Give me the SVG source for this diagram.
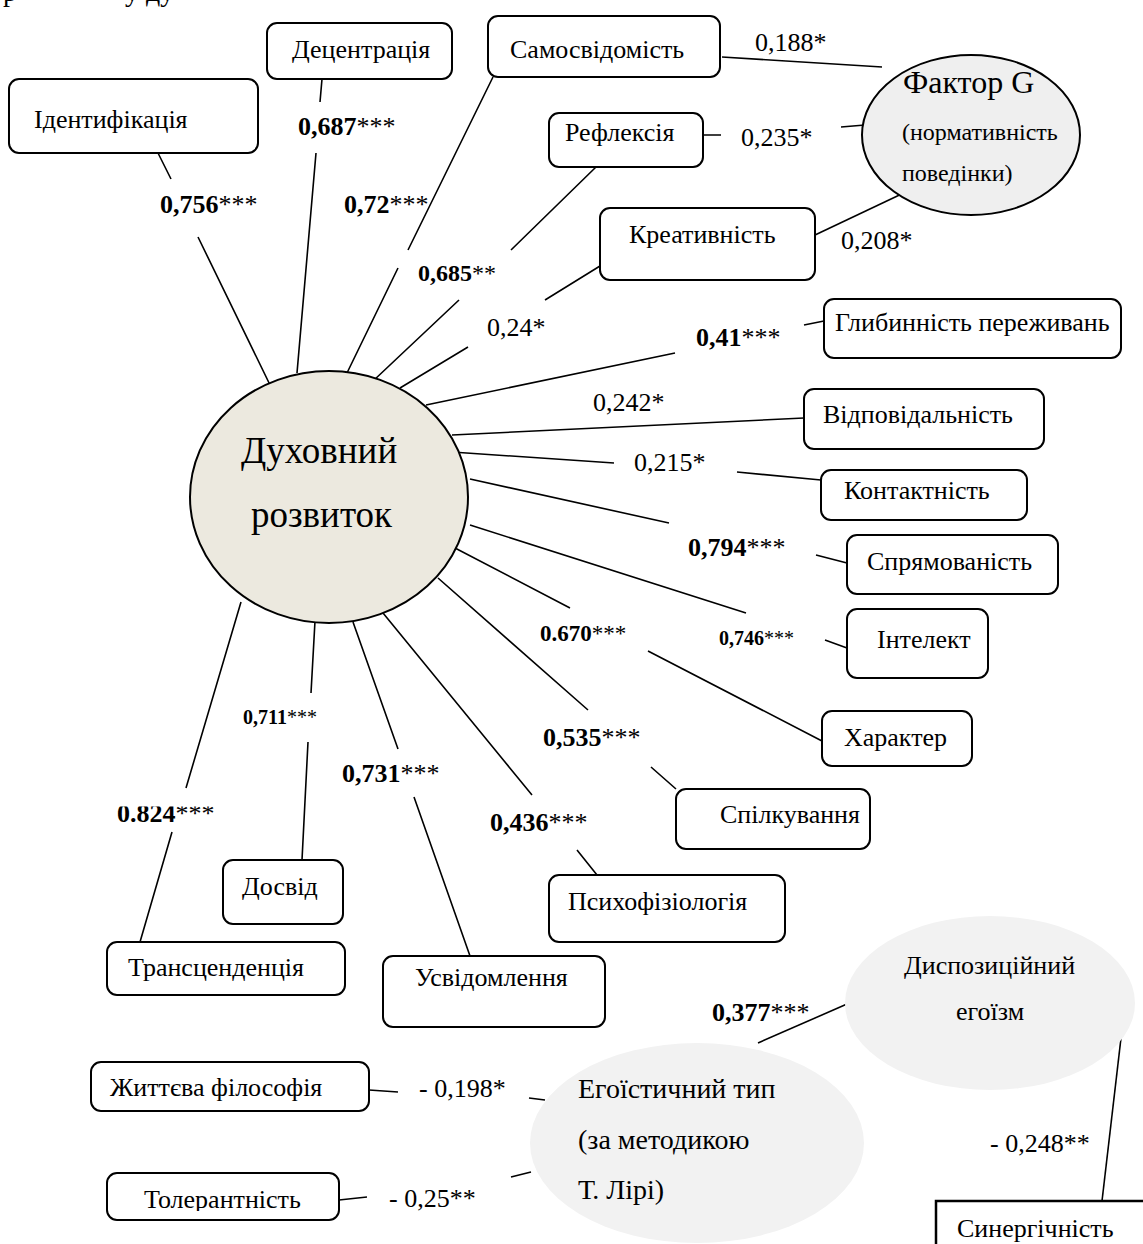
<svg xmlns="http://www.w3.org/2000/svg" width="1143" height="1244" viewBox="0 0 1143 1244">
<defs>
<style>
.t{font-family:"Liberation Serif","Times New Roman",serif;font-size:26px;fill:#000}
.b{font-weight:bold}
.n{font-weight:normal}
.s20{font-size:20px}
.s23{font-size:23px}
.box{fill:#fff;stroke:#000;stroke-width:2}
.ln{stroke:#000;stroke-width:1.6;fill:none;stroke-linecap:butt}
</style>
<clipPath id="c824"><rect x="100" y="806.5" width="140" height="30"/></clipPath>
<clipPath id="ctol"><rect x="100" y="1170" width="250" height="41"/></clipPath>
</defs>
<rect width="1143" height="1244" fill="#fff"/>
<g id="fragment">
<text class="t" x="3" y="1" style="font-size:28px">р</text>
<text class="t" x="125" y="1" style="font-size:28px">у ду</text>
</g>
<g id="connectors">
<path class="ln" d="M158,153 L171,179 M198,237 L272,389"/>
<path class="ln" d="M322,79 L320,102 M316,153 L297,373"/>
<path class="ln" d="M493,77 L408,250 M398,268 L346,375"/>
<path class="ln" d="M596,167 L511,250 M459,300 L373,381"/>
<path class="ln" d="M600,266 L545,300 M468,347 L400,388"/>
<path class="ln" d="M824,321 L804,325 M675,353 L426,405"/>
<path class="ln" d="M804,418 L452,435"/>
<path class="ln" d="M821,480 L737,472 M614,463 L452,452"/>
<path class="ln" d="M847,563 L816,555 M669,523 L470,479"/>
<path class="ln" d="M847,648 L825,640 M746,613 L470,525"/>
<path class="ln" d="M822,741 L648,651 M570,608 L455,548"/>
<path class="ln" d="M676,789 L651,767 M588,710 L438,578"/>
<path class="ln" d="M597,875 L577,850 M532,795 L383,613"/>
<path class="ln" d="M470,956 L414,797 M398,749 L353,622"/>
<path class="ln" d="M302,860 L308,742 M311,693 L315,621"/>
<path class="ln" d="M140,942 L172,832 M186,788 L241,602"/>
<path class="ln" d="M722,57 L882,67"/>
<path class="ln" d="M703,135 L721,135 M841,127 L865,125"/>
<path class="ln" d="M815,235 L910,190"/>
<path class="ln" d="M369,1090 L398,1092 M529,1098 L545,1100"/>
<path class="ln" d="M339,1200 L367,1197 M511,1177 L531,1172"/>
<path class="ln" d="M847,1004 L758,1043"/>
<path class="ln" d="M1121,1038 L1102,1201"/>
</g>
<g id="labels">
<text class="t b" x="160" y="213">0,756<tspan class="n">***</tspan></text>
<text class="t b" x="298" y="135">0,687<tspan class="n">***</tspan></text>
<text class="t b" x="344" y="213">0,72<tspan class="n">***</tspan></text>
<text class="t b" x="418" y="281" style="font-size:24px">0,685<tspan class="n">**</tspan></text>
<text class="t" x="487" y="336">0,24*</text>
<text class="t b" x="696" y="346">0,41<tspan class="n">***</tspan></text>
<text class="t" x="593" y="411">0,242*</text>
<text class="t" x="634" y="471">0,215*</text>
<text class="t b" x="688" y="556">0,794<tspan class="n">***</tspan></text>
<text class="t b s20" x="719" y="645">0,746<tspan class="n">***</tspan></text>
<text class="t b s23" x="540" y="641">0.670<tspan class="n">***</tspan></text>
<text class="t b" x="543" y="746">0,535<tspan class="n">***</tspan></text>
<text class="t b" x="490" y="831">0,436<tspan class="n">***</tspan></text>
<text class="t b" x="342" y="782">0,731<tspan class="n">***</tspan></text>
<text class="t b s20" x="243" y="724">0,711<tspan class="n">***</tspan></text>
<text class="t b" x="117" y="822" clip-path="url(#c824)">0.824<tspan class="n">***</tspan></text>
<text class="t" x="755" y="51">0,188*</text>
<text class="t" x="741" y="146">0,235*</text>
<text class="t" x="841" y="249">0,208*</text>
<text class="t" x="419" y="1097">- 0,198*</text>
<text class="t" x="389" y="1207">- 0,25**</text>
<text class="t b" x="712" y="1021">0,377<tspan class="n">***</tspan></text>
<text class="t" x="990" y="1152">- 0,248**</text>
</g>
<g id="hub">
<ellipse cx="329" cy="497" rx="139" ry="126" fill="#ece9df" stroke="#000" stroke-width="2"/>
<text class="t" x="241" y="463" style="font-size:37px">Духовний</text>
<text class="t" x="251" y="527" style="font-size:37px">розвиток</text>
</g>
<g id="n-identification"><rect class="box" x="9" y="79" width="249" height="74" rx="10"/><text class="t" x="34" y="128">Ідентифікація</text></g>
<g id="n-decentration"><rect class="box" x="267" y="23" width="185" height="56" rx="10"/><text class="t" x="292" y="58">Децентрація</text></g>
<g id="n-selfawareness"><rect class="box" x="488" y="16" width="232" height="61" rx="10"/><text class="t" x="510" y="58">Самосвідомість</text></g>
<g id="n-reflexion"><rect class="box" x="549" y="113" width="154" height="54" rx="10"/><text class="t" x="565" y="141">Рефлексія</text></g>
<g id="n-creativity"><rect class="box" x="600" y="208" width="215" height="72" rx="10"/><text class="t" x="629" y="243">Креативність</text></g>
<g id="n-factorG">
<ellipse cx="971" cy="135" rx="109" ry="80" fill="#efefef" stroke="#000" stroke-width="2"/>
<text class="t" x="903" y="93" style="font-size:32px">Фактор G</text>
<text class="t" x="902" y="140" style="font-size:24px">(нормативність</text>
<text class="t" x="902" y="181" style="font-size:24px">поведінки)</text>
</g>
<g id="n-depth"><rect class="box" x="824" y="299" width="297" height="59" rx="10"/><text class="t" x="835" y="331">Глибинність переживань</text></g>
<g id="n-responsibility"><rect class="box" x="804" y="389" width="240" height="60" rx="10"/><text class="t" x="823" y="423">Відповідальність</text></g>
<g id="n-contact"><rect class="box" x="821" y="470" width="206" height="50" rx="10"/><text class="t" x="844" y="499">Контактність</text></g>
<g id="n-direction"><rect class="box" x="847" y="535" width="211" height="59" rx="10"/><text class="t" x="867" y="570">Спрямованість</text></g>
<g id="n-intellect"><rect class="box" x="847" y="609" width="141" height="69" rx="10"/><text class="t" x="877" y="648">Інтелект</text></g>
<g id="n-character"><rect class="box" x="822" y="711" width="150" height="55" rx="10"/><text class="t" x="844" y="746">Характер</text></g>
<g id="n-communication"><rect class="box" x="676" y="789" width="194" height="60" rx="10"/><text class="t" x="720" y="823">Спілкування</text></g>
<g id="n-psychophysiology"><rect class="box" x="549" y="875" width="236" height="67" rx="10"/><text class="t" x="568" y="910">Психофізіологія</text></g>
<g id="n-experience"><rect class="box" x="223" y="860" width="120" height="64" rx="10"/><text class="t" x="242" y="895">Досвід</text></g>
<g id="n-transcendence"><rect class="box" x="107" y="942" width="238" height="53" rx="10"/><text class="t" x="128" y="976">Трансценденція</text></g>
<g id="n-awareness"><rect class="box" x="383" y="956" width="222" height="71" rx="10"/><text class="t" x="415" y="986">Усвідомлення</text></g>
<g id="n-lifephilosophy"><rect class="box" x="91" y="1062" width="278" height="49" rx="10"/><text class="t" x="110" y="1096">Життєва філософія</text></g>
<g id="n-tolerance"><rect class="box" x="107" y="1173" width="232" height="47" rx="10"/><text class="t" x="144" y="1208" clip-path="url(#ctol)">Толерантність</text></g>
<g id="n-dispositional">
<ellipse cx="990" cy="1003" rx="145" ry="87" fill="#f2f2f2"/>
<text class="t" x="904" y="974">Диспозиційний</text>
<text class="t" x="956" y="1020">егоїзм</text>
</g>
<g id="n-egoistic">
<ellipse cx="697" cy="1143" rx="167" ry="100" fill="#f2f2f2"/>
<text class="t" x="578" y="1098" style="font-size:28px">Егоїстичний тип</text>
<text class="t" x="578" y="1149" style="font-size:28px">(за методикою</text>
<text class="t" x="578" y="1199" style="font-size:28px">Т. Лірі)</text>
</g>
<g id="n-synergy"><rect x="936" y="1201" width="230" height="60" fill="#fff" stroke="#000" stroke-width="2.5"/><text class="t" x="957" y="1237">Синергічність</text></g>
</svg>
